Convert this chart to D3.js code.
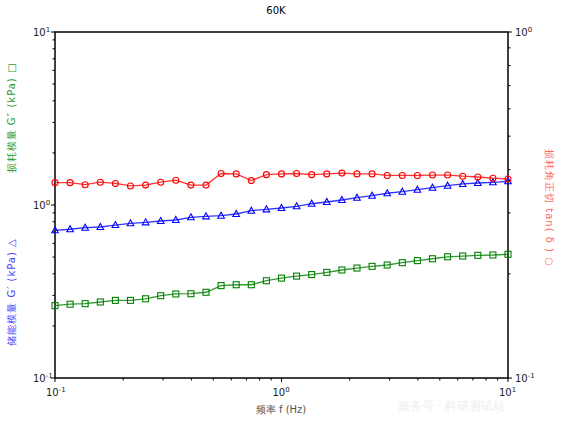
<!DOCTYPE html>
<html>
<head>
<meta charset="utf-8">
<script src="https://cdn.jsdelivr.net/npm/d3@7"></script>
<style>
  body { margin: 0; background: #fff; }
  text { font-family: "DejaVu Sans", sans-serif; }
</style>
</head>
<body>
<div id="chart"></div>
<script>
// frequency points, 15 per decade from 0.1 to 10 Hz
const freq = d3.range(31).map(i => +Math.pow(10, -1 + i / 15).toPrecision(4));

// loss modulus G'' (kPa), squares
const lossMod = [0.262, 0.267, 0.269, 0.275, 0.281, 0.281, 0.287, 0.299, 0.306, 0.307, 0.313,
  0.342, 0.346, 0.346, 0.365, 0.378, 0.388, 0.396, 0.408, 0.421, 0.432, 0.442, 0.450, 0.464,
  0.477, 0.489, 0.502, 0.507, 0.512, 0.514, 0.519];

// storage modulus G' (kPa), triangles
const storageMod = [0.714, 0.724, 0.739, 0.746, 0.766, 0.784, 0.794, 0.808, 0.819, 0.849, 0.860,
  0.867, 0.887, 0.927, 0.944, 0.961, 0.983, 1.017, 1.041, 1.069, 1.102, 1.132, 1.169, 1.194,
  1.226, 1.259, 1.293, 1.323, 1.340, 1.353, 1.371];

// loss tangent tan(delta), circles, right axis
const tanDelta = [0.367, 0.367, 0.362, 0.368, 0.365, 0.359, 0.361, 0.368, 0.373, 0.361, 0.361,
  0.390, 0.389, 0.372, 0.387, 0.389, 0.390, 0.387, 0.389, 0.391, 0.389, 0.389, 0.385, 0.385,
  0.385, 0.386, 0.386, 0.383, 0.381, 0.378, 0.376];

const xTicks = [0.1, 1, 10];
const yLeftTicks = [0.1, 1, 10];
const yRightTicks = [0.1, 1];

const margin = { top: 32, right: 54, bottom: 44, left: 55 },
      width = 562 - margin.left - margin.right,
      height = 422 - margin.top - margin.bottom;

const root = d3.select("#chart")
  .append("svg")
  .attr("width", 562)
  .attr("height", 422);

const svg = root.append("g")
  .attr("transform", `translate(${margin.left},${margin.top})`);

const x = d3.scaleLog().domain([0.1, 10]).range([0, width]);
const yL = d3.scaleLog().domain([0.1, 10]).range([height, 0]);
const yR = d3.scaleLog().domain([0.1, 1]).range([height, 0]);

// minor ticks 2..9 in each decade
function minors(lo, hi) {
  const out = [];
  for (let e = Math.log10(lo); e < Math.log10(hi); e++) {
    for (let k = 2; k <= 9; k++) out.push(k * Math.pow(10, e));
  }
  return out;
}

function pow10(g, v) {
  const e = Math.round(Math.log10(v));
  g.text("10");
  g.append("tspan").attr("dy", -4).attr("font-size", 7).text(e < 0 ? "-" + (-e) : e);
}

// frame
svg.append("rect")
  .attr("width", width)
  .attr("height", height)
  .attr("fill", "none")
  .attr("stroke", "#000")
  .attr("stroke-width", 1.5);

// bottom ticks
svg.selectAll(".xminor").data(minors(0.1, 10)).enter().append("line")
  .attr("x1", d => x(d)).attr("x2", d => x(d))
  .attr("y1", height).attr("y2", height + 2.5)
  .attr("stroke", "#000");
svg.selectAll(".xmajor").data(xTicks).enter().append("line")
  .attr("x1", d => x(d)).attr("x2", d => x(d))
  .attr("y1", height).attr("y2", height + 4)
  .attr("stroke", "#000");
svg.selectAll(".xlab").data(xTicks).enter().append("text")
  .attr("x", d => x(d) - 9)
  .attr("y", height + 18)
  .attr("font-size", 10)
  .attr("fill", "#222")
  .each(function (d) { pow10(d3.select(this), d); });

// left ticks
svg.selectAll(".ylminor").data(minors(0.1, 10)).enter().append("line")
  .attr("x1", -2.5).attr("x2", 0)
  .attr("y1", d => yL(d)).attr("y2", d => yL(d))
  .attr("stroke", "#000");
svg.selectAll(".ylmajor").data(yLeftTicks).enter().append("line")
  .attr("x1", -4).attr("x2", 0)
  .attr("y1", d => yL(d)).attr("y2", d => yL(d))
  .attr("stroke", "#000");
svg.selectAll(".yllab").data(yLeftTicks).enter().append("text")
  .attr("x", -22)
  .attr("y", d => yL(d) + 4)
  .attr("font-size", 10)
  .attr("fill", "#222")
  .each(function (d) { pow10(d3.select(this), d); });

// right ticks
svg.selectAll(".yrminor").data(minors(0.1, 1)).enter().append("line")
  .attr("x1", width).attr("x2", width + 2.5)
  .attr("y1", d => yR(d)).attr("y2", d => yR(d))
  .attr("stroke", "#000");
svg.selectAll(".yrmajor").data(yRightTicks).enter().append("line")
  .attr("x1", width).attr("x2", width + 4)
  .attr("y1", d => yR(d)).attr("y2", d => yR(d))
  .attr("stroke", "#000");
svg.selectAll(".yrlab").data(yRightTicks).enter().append("text")
  .attr("x", width + 7)
  .attr("y", d => yR(d) + 4)
  .attr("font-size", 10)
  .attr("fill", "#222")
  .each(function (d) { pow10(d3.select(this), d); });

// series
const series = [
  { vals: storageMod, y: yL, color: "#0000ff", shape: "tri" },
  { vals: lossMod, y: yL, color: "#008000", shape: "sq" },
  { vals: tanDelta, y: yR, color: "#ff0000", shape: "circ" }
];

series.forEach(s => {
  const pts = freq.map((f, i) => [x(f), s.y(s.vals[i])]);
  svg.append("path")
    .datum(pts)
    .attr("fill", "none")
    .attr("stroke", s.color)
    .attr("stroke-opacity", 0.8)
    .attr("stroke-width", 1.3)
    .attr("d", d3.line());

  const g = svg.append("g").attr("fill", "none").attr("stroke", s.color).attr("stroke-width", 1.1);
  pts.forEach(p => {
    if (s.shape === "sq") {
      g.append("rect").attr("x", p[0] - 3).attr("y", p[1] - 3).attr("width", 6).attr("height", 6);
    } else if (s.shape === "tri") {
      g.append("path").attr("d", `M${p[0]},${p[1] - 3.5}L${p[0] + 3.3},${p[1] + 2.5}L${p[0] - 3.3},${p[1] + 2.5}Z`);
    } else {
      g.append("circle").attr("cx", p[0]).attr("cy", p[1]).attr("r", 3);
    }
  });
});

// titles
root.append("text")
  .attr("x", 276).attr("y", 14)
  .attr("text-anchor", "middle")
  .attr("font-size", 10)
  .text("60K");

root.append("text")
  .attr("x", 281).attr("y", 413)
  .attr("text-anchor", "middle")
  .attr("font-family", "Noto Sans CJK SC")
  .attr("font-size", 10)
  .attr("fill", "#555")
  .text("频率  f  (Hz)");

root.append("text")
  .attr("transform", "translate(15,118) rotate(-90)")
  .attr("text-anchor", "middle")
  .attr("font-family", "Noto Sans CJK SC")
  .attr("font-size", 10)
  .attr("letter-spacing", 1)
  .attr("fill", "#2a9a2a")
  .text("损耗模量  G″  (kPa)  □");

root.append("text")
  .attr("transform", "translate(15,292) rotate(-90)")
  .attr("text-anchor", "middle")
  .attr("font-family", "Noto Sans CJK SC")
  .attr("font-size", 10)
  .attr("letter-spacing", 1)
  .attr("fill", "#4444ff")
  .text("储能模量  G′  (kPa)  △");

root.append("text")
  .attr("transform", "translate(546,208) rotate(90)")
  .attr("text-anchor", "middle")
  .attr("font-family", "Noto Sans CJK SC")
  .attr("font-size", 10)
  .attr("letter-spacing", 1)
  .attr("fill", "#ff6666")
  .text("损耗角正切  tan( δ )  ○");

// faint watermark
root.append("text")
  .attr("x", 398).attr("y", 410)
  .attr("font-family", "Noto Sans CJK SC")
  .attr("font-size", 12)
  .attr("fill", "#ededed")
  .text("服务号 · 科研测试站");
</script>
</body>
</html>
